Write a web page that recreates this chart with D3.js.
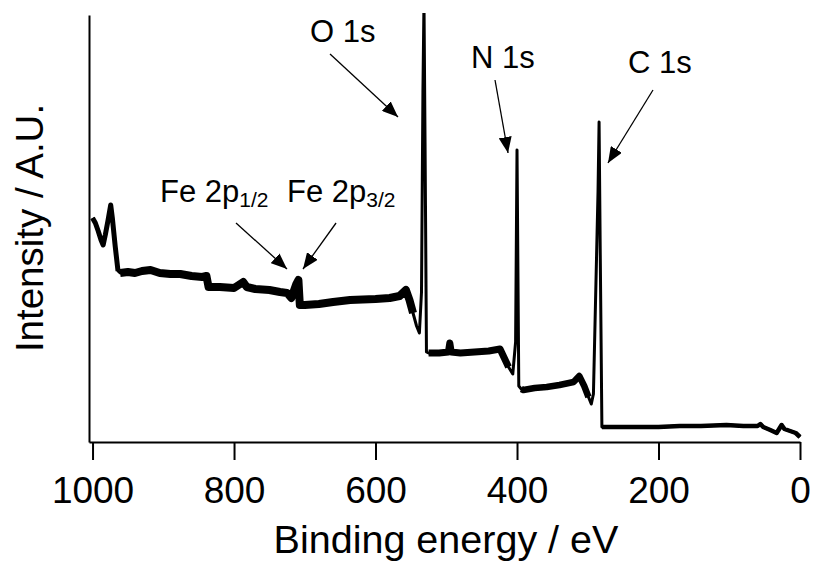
<!DOCTYPE html>
<html>
<head>
<meta charset="utf-8">
<script src="https://cdn.jsdelivr.net/npm/d3@7"></script>
<style>
  body { margin: 0; background: #fff; }
  text { font-family: "Liberation Sans", Arial, sans-serif; fill: #000; }
</style>
</head>
<body>
<div id="chart"></div>
<script>
// XPS survey spectrum (binding energy in eV, intensity in a.u.)
const energy = [1000, 996, 992, 988, 985, 982, 978, 974.3, 972, 968, 964, 961, 950, 940, 930, 918, 905, 890, 876, 860, 845, 839,
  836, 820, 800, 787, 782, 770, 750, 735, 725, 719, 716, 712, 709, 707, 700, 680, 660, 636, 600, 580, 566, 560, 557, 552, 547, 542, 538,
  535, 533, 531.5, 530, 528, 525, 510, 497, 495, 493, 480, 460, 440, 424, 418, 412, 406, 402, 400, 397.5,
  394, 391, 375, 358, 340, 320, 312, 305, 299, 295, 292, 285.5, 284, 282.5, 280,
  270, 250, 200, 170, 140, 104, 80, 60, 56, 52, 42, 33, 26, 22, 14, 6, 0];
const intensity = [224, 219, 211, 202, 197, 207, 222, 237, 224, 196, 171, 169, 170, 169, 171, 172, 169, 168, 168, 166, 165, 166,
  155, 155, 154, 160, 155, 153, 152, 150, 149, 144, 150, 158, 162, 137, 137, 138, 140, 142, 143, 144, 146, 150, 152, 142, 129, 116, 109,
  150, 350, 440, 300, 90, 89, 89, 90, 99, 90, 89, 90, 91, 93, 84, 75, 68, 100, 292, 56,
  53, 52, 54, 55, 57, 60, 66, 56, 45, 38, 48, 250, 320, 200, 15,
  15, 15, 15, 16, 16, 17, 16, 16, 18, 15, 12, 9, 17, 13, 11, 9, 5];

const xTicks = [1000, 800, 600, 400, 200, 0];

// peak labels: text anchor and arrow (start -> tip), in eV / a.u.
const annLabels = ["O 1s", "N 1s", "C 1s", "Fe 2p", "Fe 2p"];
const annSubs = ["", "", "", "1/2", "3/2"];
const annTextE = [692.6, 465, 243.1, 904.6, 725.1];
const annTextI = [400, 374, 369, 240, 240];
const arrowFromE = [664.3, 431.1, 207.8, 797.2, 655.8];
const arrowFromI = [388, 362, 352, 219, 219];
const arrowToE = [568.2, 412.7, 271.4, 725.1, 702.5];
const arrowToI = [325, 289, 279, 173, 173];

// noisy stretches of the trace drawn a bit heavier
const noisyBands = [
  {from: 1000, to: 962, width: 5},
  {from: 962, to: 545, width: 8},
  {from: 527, to: 410, width: 7},
  {from: 394, to: 297, width: 6.5},
  {from: 280, to: 0, width: 4.5}
];

const width = 814, height = 569;
const font = '"Liberation Sans", Arial, sans-serif';

const svg = d3.select("#chart").append("svg")
  .attr("width", width)
  .attr("height", height);

const x = d3.scaleLinear().domain([1005, 0]).range([89, 800]);
const y = d3.scaleLinear().domain([0, 427]).range([442, 15]);

svg.append("defs").append("clipPath").attr("id", "plot-clip")
  .append("rect").attr("x", 85).attr("y", 13).attr("width", 729).attr("height", 440);

const marker = svg.select("defs").append("marker")
  .attr("id", "arrow")
  .attr("markerUnits", "userSpaceOnUse")
  .attr("viewBox", "0 0 16 13")
  .attr("refX", 16).attr("refY", 6.5)
  .attr("markerWidth", 16).attr("markerHeight", 13)
  .attr("orient", "auto");
marker.append("path").attr("d", "M0,0L16,6.5L0,13Z").attr("fill", "#000");

const spectrum = energy.map((e, i) => ({e: e, v: intensity[i]}));
const line = d3.line().x(d => x(d.e)).y(d => y(d.v));

const plot = svg.append("g").attr("clip-path", "url(#plot-clip)");

noisyBands.forEach(b => {
  plot.append("path")
    .datum(spectrum.filter(d => d.e <= b.from && d.e >= b.to))
    .attr("d", line)
    .attr("fill", "none")
    .attr("stroke", "#000")
    .attr("stroke-width", b.width)
    .attr("stroke-linejoin", "round");
});

plot.append("path")
  .datum(spectrum)
  .attr("d", line)
  .attr("fill", "none")
  .attr("stroke", "#000")
  .attr("stroke-width", 3)
  .attr("stroke-linejoin", "round");

// axes
const xAxis = svg.append("g")
  .attr("transform", "translate(0,442)")
  .call(d3.axisBottom(x).tickValues(xTicks).tickFormat(d3.format("d"))
    .tickSize(18).tickSizeOuter(0).tickPadding(17));
xAxis.attr("font-size", 37).attr("font-family", font);
xAxis.selectAll("line, path").attr("stroke", "#000").attr("stroke-width", 2);

const yAxis = svg.append("g")
  .attr("transform", "translate(89,0)")
  .call(d3.axisLeft(y).tickValues([]).tickSizeOuter(0));
yAxis.selectAll("path").attr("stroke", "#000").attr("stroke-width", 2);

svg.append("text")
  .attr("x", 446).attr("y", 553)
  .attr("text-anchor", "middle")
  .attr("font-size", 39.5)
  .text("Binding energy / eV");

svg.append("text")
  .attr("transform", "translate(43,228) rotate(-90)")
  .attr("text-anchor", "middle")
  .attr("font-size", 38.5)
  .text("Intensity / A.U.");

// annotations
annLabels.forEach((lab, i) => {
  const t = svg.append("text")
    .attr("x", x(annTextE[i]))
    .attr("y", y(annTextI[i]))
    .attr("font-size", 31)
    .text(lab);
  if (annSubs[i]) {
    t.append("tspan").attr("font-size", 21).attr("dy", 5).text(annSubs[i]);
  }
  svg.append("line")
    .attr("x1", x(arrowFromE[i])).attr("y1", y(arrowFromI[i]))
    .attr("x2", x(arrowToE[i])).attr("y2", y(arrowToI[i]))
    .attr("stroke", "#000")
    .attr("stroke-width", 1.3)
    .attr("marker-end", "url(#arrow)");
});
</script>
</body>
</html>
